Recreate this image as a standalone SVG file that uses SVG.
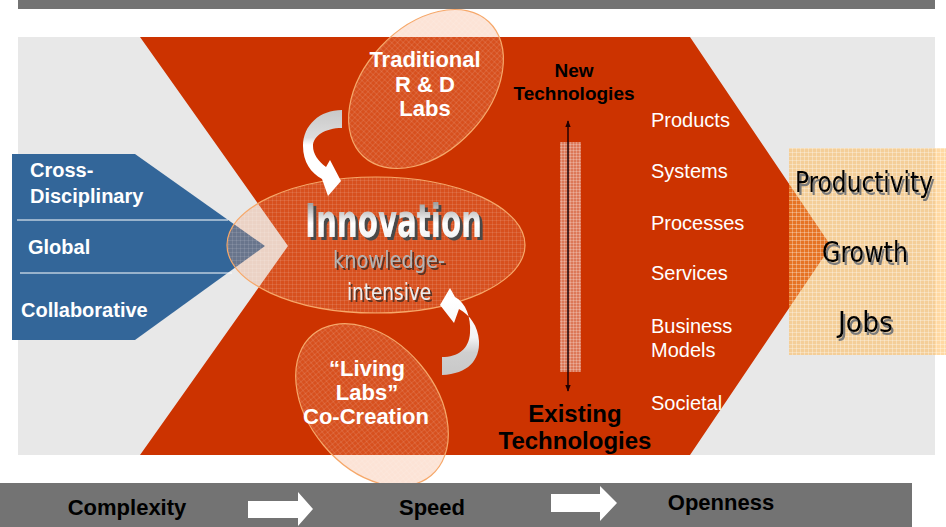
<svg xmlns="http://www.w3.org/2000/svg" width="946" height="527" viewBox="0 0 946 527">
  <defs>
    <style>
      .wb { font-family: "Liberation Sans", Arial, sans-serif; font-weight: bold; fill: #ffffff; }
      .wn { font-family: "Liberation Sans", Arial, sans-serif; fill: #ffffff; font-size: 20px; }
      .kb { font-family: "Liberation Sans", Arial, sans-serif; font-weight: bold; fill: #000000; }
      .cond { font-family: "DejaVu Sans Condensed", "DejaVu Sans", sans-serif; }
      .ell { fill: url(#mesh); stroke: #f6a86a; stroke-width: 1.2; }
    </style>
    <filter id="shDark" x="-10%" y="-20%" width="130%" height="150%">
      <feDropShadow dx="3" dy="3" stdDeviation="0.4" flood-color="#4a4a4a" flood-opacity="1"/>
    </filter>
    <filter id="shSoft" x="-10%" y="-20%" width="130%" height="150%">
      <feDropShadow dx="2" dy="2" stdDeviation="0.3" flood-color="#5a3020" flood-opacity="1"/>
    </filter>
    <filter id="shGray" x="-10%" y="-20%" width="130%" height="150%">
      <feDropShadow dx="2" dy="3" stdDeviation="0.3" flood-color="#7a7a7a" flood-opacity="1"/>
    </filter>
    <pattern id="mesh" width="4" height="4" patternUnits="userSpaceOnUse">
      <rect width="4" height="4" fill="#f39a6b" fill-opacity="0.28"/>
      <path d="M0 0.5H4M0.5 0V4" stroke="#ffffff" stroke-opacity="0.1" stroke-width="1"/>
    </pattern>
    <pattern id="mesh2" width="4" height="4" patternUnits="userSpaceOnUse">
      <rect width="4" height="4" fill="#ffb347" fill-opacity="0.5"/>
      <path d="M0 0.5H4M0.5 0V4" stroke="#ffffff" stroke-opacity="0.3" stroke-width="1"/>
    </pattern>
    <pattern id="mesh3" width="3" height="3" patternUnits="userSpaceOnUse">
      <rect width="3" height="3" fill="#e8b0a0" fill-opacity="0.55"/>
      <path d="M0 0.5H3M0.5 0V3" stroke="#ffffff" stroke-opacity="0.22" stroke-width="1"/>
    </pattern>
    <linearGradient id="innoGrad" gradientUnits="userSpaceOnUse" x1="0" y1="202" x2="0" y2="238">
      <stop offset="0" stop-color="#9c9c9c"/>
      <stop offset="0.6" stop-color="#ffffff"/>
      <stop offset="1" stop-color="#f2f2f2"/>
    </linearGradient>
    <linearGradient id="arrTop" gradientUnits="userSpaceOnUse" x1="0" y1="110" x2="0" y2="160">
      <stop offset="0" stop-color="#c8c8c8"/>
      <stop offset="0.55" stop-color="#dddddd"/>
      <stop offset="0.7" stop-color="#ffffff"/>
    </linearGradient>
    <linearGradient id="arrBot" gradientUnits="userSpaceOnUse" x1="0" y1="300" x2="0" y2="375">
      <stop offset="0" stop-color="#ffffff"/>
      <stop offset="0.5" stop-color="#f4f4f4"/>
      <stop offset="0.7" stop-color="#cfcfcf"/>
      <stop offset="1" stop-color="#c8c8c8"/>
    </linearGradient>
    <marker id="ah" viewBox="0 0 10 10" refX="9" refY="5" markerWidth="7" markerHeight="7" orient="auto-start-reverse" markerUnits="userSpaceOnUse">
      <path d="M0 1 L10 5 L0 9 Z" fill="#220000"/>
    </marker>
  </defs>

  <!-- backgrounds -->
  <rect x="18" y="0" width="917" height="9" fill="#737373"/>
  <rect x="18" y="37" width="917" height="418" fill="#e8e8e8"/>

  <!-- main chevron -->
  <polygon id="chevron" points="140,37 690,37 831,246 690,455 140,455 288,246" fill="#cc3300"/>

  <!-- input chevron -->
  <g id="inputs">
    <polygon points="12,154 135,154 265,246 135,340 12,340" fill="#336699"/>
    <line x1="17" y1="220" x2="228" y2="220" stroke="#ffffff" stroke-width="1"/>
    <line x1="20" y1="273" x2="232" y2="273" stroke="#ffffff" stroke-width="1"/>
    <text class="wb" x="30" y="177" font-size="20">Cross-</text>
    <text class="wb" x="30" y="203" font-size="20">Disciplinary</text>
    <text class="wb" x="28" y="254" font-size="20">Global</text>
    <text class="wb" x="21" y="317" font-size="20">Collaborative</text>
  </g>

  <!-- Innovation -->
  <g id="innovation">
    <ellipse class="ell" cx="376" cy="245" rx="149" ry="68"/>
    <text class="cond" x="305" y="237" font-size="47" font-weight="bold" fill="url(#innoGrad)" filter="url(#shDark)" textLength="177" lengthAdjust="spacingAndGlyphs">Innovation</text>
    <text class="cond" x="333" y="268" font-size="23" fill="#b4b4b4" filter="url(#shSoft)" textLength="112" lengthAdjust="spacingAndGlyphs">knowledge-</text>
    <text class="cond" x="347" y="300" font-size="23" fill="#ececec" filter="url(#shSoft)" textLength="84" lengthAdjust="spacingAndGlyphs">intensive</text>
  </g>

  <!-- Traditional R&D Labs -->
  <g id="traditional">
    <ellipse class="ell" cx="426" cy="89" rx="92" ry="62" transform="rotate(-47 426 89)"/>
    <text class="wb" x="425" y="67" font-size="22" text-anchor="middle">Traditional</text>
    <text class="wb" x="425" y="92" font-size="22" text-anchor="middle">R &amp; D</text>
    <text class="wb" x="425" y="116" font-size="22" text-anchor="middle">Labs</text>
  </g>

  <!-- Living Labs -->
  <g id="livinglabs">
    <ellipse class="ell" cx="372" cy="405" rx="92" ry="63" transform="rotate(50 372 405)"/>
    <text class="wb" x="367" y="376" font-size="22" text-anchor="middle">“Living</text>
    <text class="wb" x="367" y="400" font-size="22" text-anchor="middle">Labs”</text>
    <text class="wb" x="366" y="424" font-size="22" text-anchor="middle">Co-Creation</text>
  </g>

  <!-- curved arrows -->
  <g id="connectors">
    <path d="M342,110 C320,110 303,125 303,146 C303,162 311,173 322,179 L328,196 L341,181 L330,160 L326,167 C318,161 313,154 313,146 C313,136 325,128 342,128 Z" fill="url(#arrTop)"/>
    <path d="M442,375 C468,374 480,360 479,341 C478,326 470,315 459,309 L454,323 L440,305 L450,288 L455,297 C466,303 471,317 470,333 C469,349 458,357 442,357 Z" fill="url(#arrBot)"/>
    <line x1="568" y1="121" x2="568" y2="391" stroke="#220000" stroke-width="1.5" marker-start="url(#ah)" marker-end="url(#ah)"/>
  </g>

  <!-- technology axis -->
  <g id="techaxis">
    <rect x="560" y="142" width="21" height="230" fill="url(#mesh3)"/>
    <line x1="568" y1="142" x2="568" y2="372" stroke="#220000" stroke-width="1.5"/>
    <text class="kb" x="574" y="77" font-size="19" text-anchor="middle">New</text>
    <text class="kb" x="574" y="100" font-size="19" text-anchor="middle">Technologies</text>
    <text class="kb" x="575" y="422" font-size="24" text-anchor="middle">Existing</text>
    <text class="kb" x="575" y="449" font-size="24" text-anchor="middle">Technologies</text>
  </g>

  <!-- outputs list -->
  <g id="outputs">
    <text class="wn" x="651" y="127">Products</text>
    <text class="wn" x="651" y="178">Systems</text>
    <text class="wn" x="651" y="230">Processes</text>
    <text class="wn" x="651" y="280">Services</text>
    <text class="wn" x="651" y="333">Business</text>
    <text class="wn" x="651" y="357">Models</text>
    <text class="wn" x="651" y="410">Societal</text>
  </g>

  <!-- results box -->
  <g id="results">
    <rect x="789" y="148" width="157" height="207" fill="url(#mesh2)"/>
    <text class="cond" x="795" y="192" font-size="28" fill="#000000" filter="url(#shGray)" textLength="138" lengthAdjust="spacingAndGlyphs">Productivity</text>
    <text class="cond" x="822" y="262" font-size="28" fill="#000000" filter="url(#shGray)" textLength="86" lengthAdjust="spacingAndGlyphs">Growth</text>
    <text class="cond" x="838" y="332" font-size="28" fill="#000000" filter="url(#shGray)" textLength="55" lengthAdjust="spacingAndGlyphs">Jobs</text>
  </g>

  <!-- bottom bar -->
  <g id="bottombar">
    <rect x="0" y="483" width="912" height="44" fill="#737373"/>
    <text class="kb" x="127" y="515" font-size="22" text-anchor="middle">Complexity</text>
    <polygon points="248,501 298,501 298,492 313,509 298,526 298,518 248,518" fill="#ffffff"/>
    <text class="kb" x="432" y="515" font-size="22" text-anchor="middle">Speed</text>
    <polygon points="551,494 600,494 600,486 617,503 600,521 600,512 551,512" fill="#ffffff"/>
    <text class="kb" x="721" y="510" font-size="22" text-anchor="middle">Openness</text>
  </g>
</svg>
